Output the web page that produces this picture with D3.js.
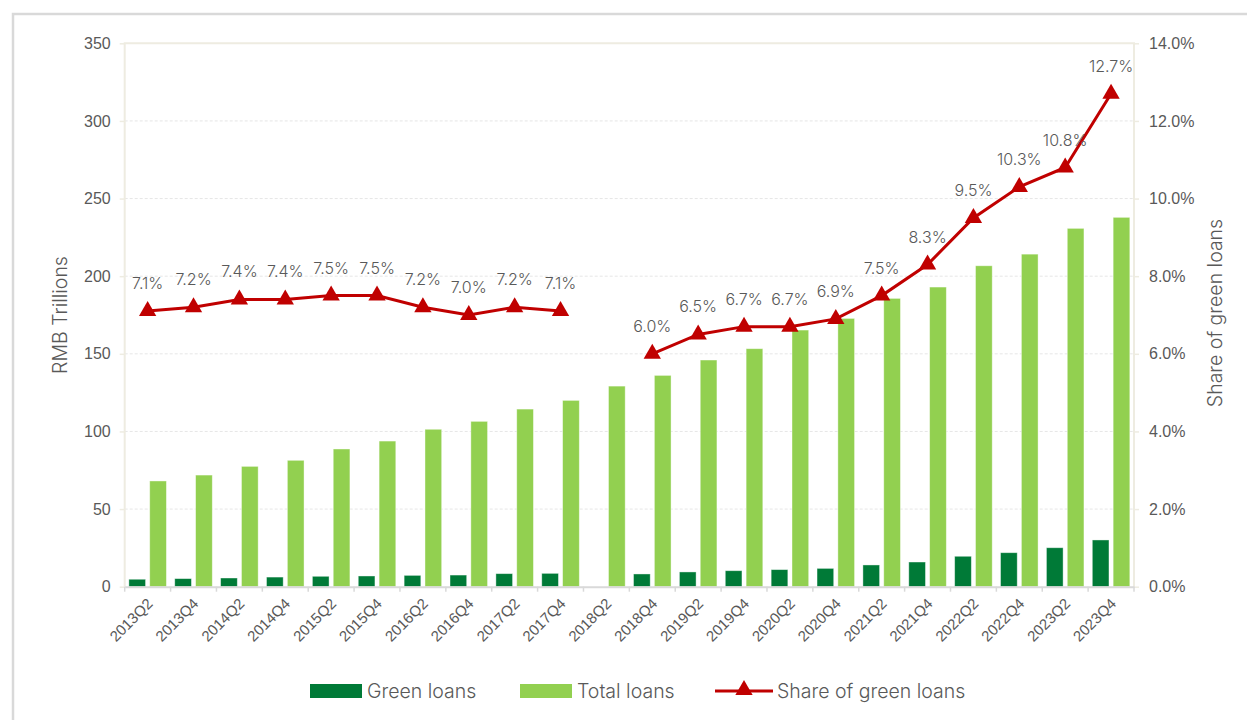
<!DOCTYPE html>
<html>
<head>
<meta charset="utf-8">
<script src="https://cdn.jsdelivr.net/npm/d3@7"></script>
<style>
  body { margin: 0; background: #fff; }
  svg { display: block; font-family: Inter, "Open Sans", sans-serif; font-weight: 300; }
</style>
</head>
<body>
<div id="chart"></div>
<script>
// green loans vs total loans in China, with share line on second axis

var W = 1247, H = 720;

var quarters = ['2013Q2','2013Q4','2014Q2','2014Q4','2015Q2','2015Q4','2016Q2','2016Q4',
  '2017Q2','2017Q4','2018Q2','2018Q4','2019Q2','2019Q4','2020Q2','2020Q4',
  '2021Q2','2021Q4','2022Q2','2022Q4','2023Q2','2023Q4'];

var greenLoans = [4.8, 5.2, 5.6, 6.2, 6.7, 6.9, 7.3, 7.5, 8.4, 8.6, null, 8.2,
  9.5, 10.3, 11.0, 11.8, 14.0, 15.9, 19.6, 21.9, 25.1, 30.1];

var totalLoans = [68.1, 71.9, 77.5, 81.4, 88.7, 93.8, 101.4, 106.5, 114.4, 120.0, 129.2, 136.1,
  146.0, 153.3, 165.3, 172.8, 185.7, 193.0, 206.7, 214.2, 230.8, 237.9];

var shareGreen = [7.1, 7.2, 7.4, 7.4, 7.5, 7.5, 7.2, 7.0, 7.2, 7.1, null, 6.0,
  6.5, 6.7, 6.7, 6.9, 7.5, 8.3, 9.5, 10.3, 10.8, 12.7];

var leftTicks = [0, 50, 100, 150, 200, 250, 300, 350];
var rightTicks = [0, 2, 4, 6, 8, 10, 12, 14];

var seriesNames = ['Green loans', 'Total loans', 'Share of green loans'];

var cGreen = '#007a37', cTotal = '#92d050', cRed = '#c00000', cText = '#595959';

var m = { left: 124.7, right: 1134, top: 43.3, bottom: 586.7 };

var svg = d3.select('#chart').append('svg')
  .attr('width', W)
  .attr('height', H);

// outer frame
svg.append('rect')
  .attr('x', 13).attr('y', 14)
  .attr('width', W + 20).attr('height', H + 20)
  .attr('fill', 'none')
  .attr('stroke', '#d9d9d9')
  .attr('stroke-width', 2.5);

var x = d3.scaleBand().domain(quarters).range([m.left, m.right]).padding(0);
var xs = d3.scaleBand().domain(['g', 't']).range([0, x.bandwidth()])
  .paddingInner(0.2).paddingOuter(0.2);
var y = d3.scaleLinear().domain([0, 350]).range([m.bottom, m.top]);
var y2 = d3.scaleLinear().domain([0, 14]).range([m.bottom, m.top]);

// grid
svg.append('g').selectAll('line')
  .data(leftTicks.filter(function(d) { return d > 0 && d < 350; }))
  .enter().append('line')
    .attr('x1', m.left).attr('x2', m.right)
    .attr('y1', function(d) { return y(d); })
    .attr('y2', function(d) { return y(d); })
    .attr('stroke', '#e6e6e6')
    .attr('stroke-dasharray', '3,2');

// beige frame of plot (top, left, right)
svg.append('path')
  .attr('d', 'M' + m.left + ',' + m.bottom + 'V' + m.top + 'H' + m.right + 'V' + m.bottom)
  .attr('fill', 'none')
  .attr('stroke', '#eeece1')
  .attr('stroke-width', 2);

// left axis
var yAxis = d3.axisLeft(y).tickValues(leftTicks).tickSize(5).tickPadding(9);
var gy = svg.append('g').attr('transform', 'translate(' + m.left + ',0)').call(yAxis);
gy.select('.domain').remove();
gy.selectAll('.tick line').attr('stroke', '#eeece1').attr('stroke-width', 1.5);
gy.selectAll('.tick text').attr('fill', cText).style('font-size', '16px').style('font-family', 'inherit');

// right axis
var yAxis2 = d3.axisRight(y2).tickValues(rightTicks).tickSize(5).tickPadding(10)
  .tickFormat(function(d) { return d.toFixed(1) + '%'; });
var gy2 = svg.append('g').attr('transform', 'translate(' + m.right + ',0)').call(yAxis2);
gy2.select('.domain').remove();
gy2.selectAll('.tick line').attr('stroke', '#eeece1').attr('stroke-width', 1.5);
gy2.selectAll('.tick text').attr('fill', cText).style('font-size', '16px').style('font-family', 'inherit');

// bars
var g = svg.selectAll('g.q')
  .data(quarters)
  .enter().append('g')
    .attr('class', 'q')
    .attr('transform', function(d) { return 'translate(' + x(d) + ',0)'; });

g.filter(function(d, i) { return greenLoans[i] != null; })
  .append('rect')
    .attr('x', xs('g'))
    .attr('width', xs.bandwidth())
    .attr('y', function(d) { return y(greenLoans[quarters.indexOf(d)]); })
    .attr('height', function(d) { return y(0) - y(greenLoans[quarters.indexOf(d)]); })
    .attr('fill', cGreen)
    .attr('stroke', 'rgba(255,255,255,0.5)')
    .attr('stroke-width', 0.8);

g.append('rect')
  .attr('x', xs('t'))
  .attr('width', xs.bandwidth())
  .attr('y', function(d, i) { return y(totalLoans[i]); })
  .attr('height', function(d, i) { return y(0) - y(totalLoans[i]); })
  .attr('fill', cTotal)
  .attr('stroke', 'rgba(255,255,255,0.5)')
  .attr('stroke-width', 0.8);

// x axis
var xAxis = d3.axisBottom(x).tickSize(0).tickPadding(0);
var gx = svg.append('g').attr('transform', 'translate(0,' + m.bottom + ')').call(xAxis);
gx.select('.domain').attr('stroke', '#d9d9d9').attr('stroke-width', 2);
gx.selectAll('.tick text')
  .attr('fill', cText)
  .style('font-size', '15px')
  .style('font-family', 'inherit')
  .attr('text-anchor', 'end')
  .attr('dy', 0)
  .attr('transform', 'translate(6,18) rotate(-45)');

// tick marks at band edges
svg.append('g').selectAll('line')
  .data(quarters.concat(['end']))
  .enter().append('line')
    .attr('x1', function(d, i) { return m.left + i * x.step(); })
    .attr('x2', function(d, i) { return m.left + i * x.step(); })
    .attr('y1', m.bottom)
    .attr('y2', m.bottom + 5)
    .attr('stroke', '#d9d9d9')
    .attr('stroke-width', 1.5);

// share line
var cx = function(i) { return x(quarters[i]) + x.bandwidth() / 2; };
var line = d3.line()
  .defined(function(d) { return d != null; })
  .x(function(d, i) { return cx(i); })
  .y(function(d) { return y2(d); });

svg.append('path')
  .datum(shareGreen)
  .attr('d', line)
  .attr('fill', 'none')
  .attr('stroke', cRed)
  .attr('stroke-width', 3);

var tri = d3.symbol().type(d3.symbolTriangle).size(130);

var pts = shareGreen.map(function(v, i) { return { v: v, i: i }; })
  .filter(function(d) { return d.v != null; });

svg.append('g').selectAll('path')
  .data(pts)
  .enter().append('path')
    .attr('d', tri)
    .attr('transform', function(d) { return 'translate(' + cx(d.i) + ',' + y2(d.v) + ')'; })
    .attr('fill', cRed);

svg.append('g').selectAll('text')
  .data(pts)
  .enter().append('text')
    .attr('x', function(d) { return cx(d.i); })
    .attr('y', function(d) { return y2(d.v) - 22; })
    .attr('text-anchor', 'middle')
    .attr('fill', cText)
    .style('font-size', '16px')
    .text(function(d) { return d.v.toFixed(1) + '%'; });

// axis titles
svg.append('text')
  .attr('transform', 'translate(67,315) rotate(-90)')
  .attr('text-anchor', 'middle')
  .attr('fill', cText)
  .style('font-size', '19.5px')
  .text('RMB Trillions');

svg.append('text')
  .attr('transform', 'translate(1222,313) rotate(-90)')
  .attr('text-anchor', 'middle')
  .attr('fill', cText)
  .style('font-size', '19.5px')
  .text('Share of green loans');

// legend
var lg = svg.append('g').attr('transform', 'translate(0,691)');
lg.append('rect').attr('x', 310).attr('y', -7).attr('width', 52).attr('height', 14).attr('fill', cGreen);
lg.append('text').attr('x', 367).attr('y', 7).attr('fill', cText).style('font-size', '19.5px').text(seriesNames[0]);
lg.append('rect').attr('x', 520).attr('y', -7).attr('width', 52).attr('height', 14).attr('fill', cTotal);
lg.append('text').attr('x', 577).attr('y', 7).attr('fill', cText).style('font-size', '19.5px').text(seriesNames[1]);
lg.append('line').attr('x1', 715).attr('x2', 773).attr('y1', 0).attr('y2', 0)
  .attr('stroke', cRed).attr('stroke-width', 3);
lg.append('path').attr('d', tri).attr('transform', 'translate(744,-1)').attr('fill', cRed);
lg.append('text').attr('x', 777).attr('y', 7).attr('fill', cText).style('font-size', '19.5px').text(seriesNames[2]);
</script>
</body>
</html>
